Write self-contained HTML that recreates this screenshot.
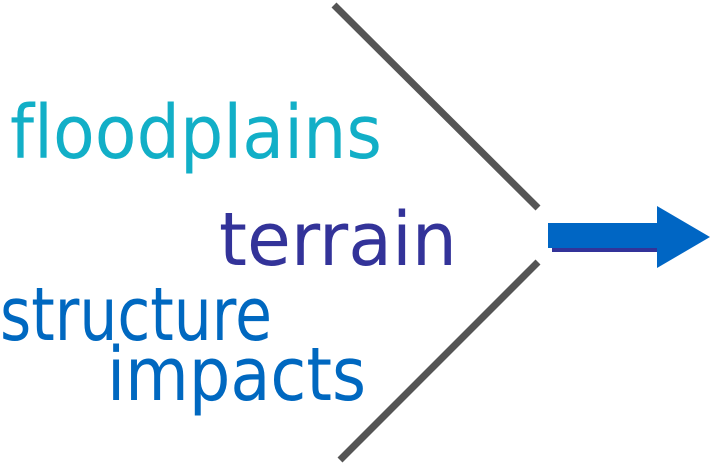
<!DOCTYPE html>
<html><head><style>html,body{margin:0;padding:0;background:#fff;width:714px;height:465px;overflow:hidden}</style></head>
<body>
<svg width="714" height="465" viewBox="0 0 714 465" xmlns="http://www.w3.org/2000/svg" style="display:block">
<line x1="334" y1="5" x2="538" y2="208" stroke="#555" stroke-width="7"/>
<line x1="538" y1="262" x2="340" y2="460" stroke="#555" stroke-width="7"/>
<rect x="552" y="228" width="110" height="24" fill="#333399"/>
<rect x="548" y="223" width="112" height="25" fill="#0066c4"/>
<polygon points="657,206 710,237 657,268" fill="#0066c4"/>
<g font-family="'DejaVu Sans','Liberation Sans',sans-serif" font-size="74" style="font-variant-ligatures:none">
<text x="10" y="158" fill="#12afc7" textLength="372" lengthAdjust="spacingAndGlyphs">floodplains</text>
<text x="219" y="265" fill="#333399" textLength="238" lengthAdjust="spacingAndGlyphs">terrain</text>
<text x="0" y="340" fill="#0068c0" textLength="272" lengthAdjust="spacingAndGlyphs">structure</text>
<text x="107" y="400" fill="#0068c0" textLength="259" lengthAdjust="spacingAndGlyphs">impacts</text>
</g>
</svg>
</body></html>
